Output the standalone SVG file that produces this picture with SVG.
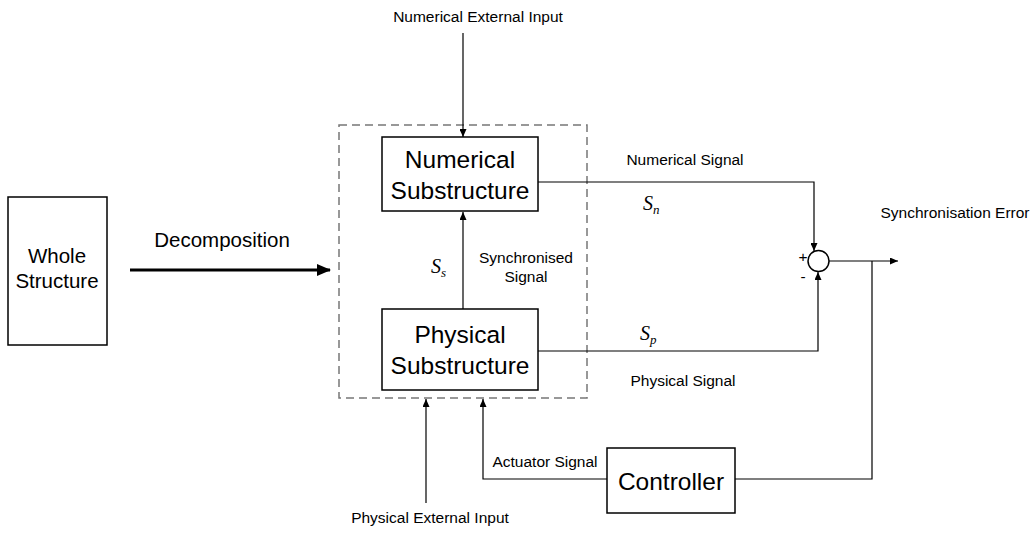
<svg xmlns="http://www.w3.org/2000/svg" width="1034" height="533" viewBox="0 0 1034 533">
<style>
.box{fill:#fff;stroke:#000;stroke-width:1.5}
.big{font-family:"Liberation Sans",Arial,sans-serif;font-size:24.5px;fill:#000;text-anchor:middle}
.mid{font-family:"Liberation Sans",Arial,sans-serif;font-size:20.5px;fill:#000;text-anchor:middle}
.sm{font-family:"Liberation Sans",Arial,sans-serif;font-size:15.5px;fill:#000}
.math{font-family:"Liberation Serif","Times New Roman",serif;font-style:italic;font-size:20px;fill:#000}
.sub{font-size:13px}
.wire{fill:none;stroke:#000;stroke-width:1.2}
</style>
<defs>
<marker id="ah" markerUnits="userSpaceOnUse" markerWidth="8" markerHeight="7" refX="8" refY="3.5" orient="auto">
<path d="M0,0 L8,3.5 L0,7 z" fill="#000"/>
</marker>
<marker id="ahb" markerUnits="userSpaceOnUse" markerWidth="14" markerHeight="12" refX="13" refY="6" orient="auto">
<path d="M0,0 L14,6 L0,12 z" fill="#000"/>
</marker>
</defs>
<rect width="1034" height="533" fill="#fff"/>
<g id="subsystem-boundary">
<rect x="339" y="125" width="248" height="273" fill="none" stroke="#777" stroke-width="1.5" stroke-dasharray="8,5"/>
</g>
<g id="connectors">
<line class="wire" x1="463" y1="33" x2="463" y2="137" marker-end="url(#ah)"/>
<line class="wire" x1="463" y1="309" x2="463" y2="212" marker-end="url(#ah)"/>
<path class="wire" d="M538,182 H814 V251" marker-end="url(#ah)"/>
<path class="wire" d="M538,351 H818 V272" marker-end="url(#ah)"/>
<line class="wire" x1="829" y1="261" x2="898" y2="261" marker-end="url(#ah)"/>
<path class="wire" d="M872,261 V479 H735"/>
<path class="wire" d="M607,479 H483 V399" marker-end="url(#ah)"/>
<line class="wire" x1="426" y1="503" x2="426" y2="399" marker-end="url(#ah)"/>
<line x1="130" y1="270" x2="330" y2="270" stroke="#000" stroke-width="3" marker-end="url(#ahb)"/>
</g>
<g id="whole-structure">
<rect class="box" x="8" y="197" width="99" height="148"/>
<text class="mid" x="57" y="263">Whole</text>
<text class="mid" x="57" y="288">Structure</text>
</g>
<g id="numerical-substructure">
<rect class="box" x="382" y="137" width="156" height="74"/>
<text class="big" x="460" y="168">Numerical</text>
<text class="big" x="460" y="199">Substructure</text>
</g>
<g id="physical-substructure">
<rect class="box" x="382" y="309" width="156" height="81"/>
<text class="big" x="460" y="343">Physical</text>
<text class="big" x="460" y="374">Substructure</text>
</g>
<g id="summing-junction">
<circle cx="818.5" cy="261" r="10.5" fill="#fff" stroke="#000" stroke-width="1.5"/>
<text class="sm" x="803" y="262" text-anchor="middle" font-size="13px">+</text>
<text class="sm" x="803" y="282" text-anchor="middle" font-size="13px">-</text>
</g>
<g id="controller">
<rect class="box" x="607" y="448" width="128" height="65"/>
<text class="big" x="671" y="490">Controller</text>
</g>
<g id="labels">
<text class="mid" x="222" y="247">Decomposition</text>
<text class="sm" x="478" y="22" text-anchor="middle">Numerical External Input</text>
<text class="sm" x="430" y="523" text-anchor="middle">Physical External Input</text>
<text class="sm" x="545" y="467" text-anchor="middle">Actuator Signal</text>
<text class="sm" x="526" y="263" text-anchor="middle">Synchronised</text>
<text class="sm" x="526" y="282" text-anchor="middle">Signal</text>
<text class="sm" x="685" y="165" text-anchor="middle">Numerical  Signal</text>
<text class="sm" x="683" y="386" text-anchor="middle">Physical Signal</text>
<text class="sm" x="955" y="218" text-anchor="middle">Synchronisation Error</text>
<text class="math" x="431" y="273">S<tspan class="sub" dy="4">s</tspan></text>
<text class="math" x="643" y="210">S<tspan class="sub" dy="4">n</tspan></text>
<text class="math" x="640" y="340">S<tspan class="sub" dy="4">p</tspan></text>
</g>
</svg>
